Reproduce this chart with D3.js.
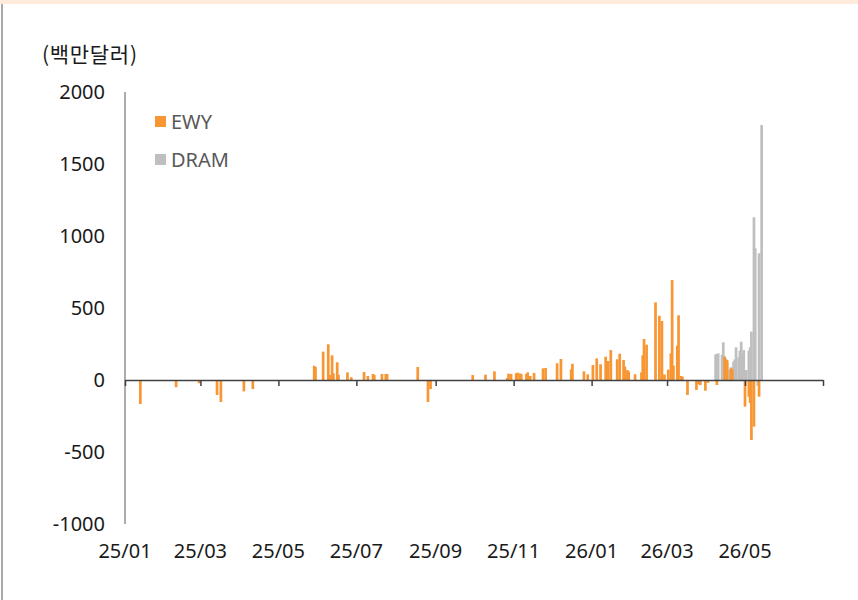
<!DOCTYPE html>
<html>
<head>
<meta charset="utf-8">
<script src="https://cdn.jsdelivr.net/npm/d3@7"></script>
<style>
  body { margin: 0; background: #fff; }
  svg { display: block; }
  text { font-family: "Noto Sans", "Noto Sans CJK KR", sans-serif; }
</style>
</head>
<body>
<svg id="chart" width="858" height="600"></svg>
<script>
// daily net flows, EWY vs DRAM (million USD)

const ewyDates = [
  "2025-01-13","2025-02-10","2025-02-28","2025-03-14","2025-03-17","2025-04-04","2025-04-11",
  "2025-05-29","2025-05-30","2025-06-05","2025-06-09","2025-06-10","2025-06-12","2025-06-13","2025-06-16","2025-06-17","2025-06-24","2025-06-27",
  "2025-07-07","2025-07-10","2025-07-14","2025-07-15","2025-07-21","2025-07-24","2025-07-25",
  "2025-08-18","2025-08-26","2025-08-28",
  "2025-09-30","2025-10-10","2025-10-17","2025-10-27","2025-10-28","2025-10-30",
  "2025-11-03","2025-11-04","2025-11-06","2025-11-07","2025-11-11","2025-11-12","2025-11-14","2025-11-17","2025-11-24","2025-11-26",
  "2025-12-05","2025-12-08","2025-12-16","2025-12-17","2025-12-26","2025-12-29",
  "2026-01-02","2026-01-05","2026-01-08","2026-01-12","2026-01-14","2026-01-16","2026-01-21","2026-01-23","2026-01-26","2026-01-27","2026-01-29","2026-01-30",
  "2026-02-04","2026-02-09","2026-02-10","2026-02-11","2026-02-13","2026-02-20","2026-02-23","2026-02-25","2026-02-27",
  "2026-03-02","2026-03-04","2026-03-05","2026-03-06","2026-03-09","2026-03-10","2026-03-12","2026-03-13",
  "2026-03-17","2026-03-24","2026-03-26","2026-03-27","2026-03-31","2026-04-02","2026-04-09",
  "2026-04-15","2026-04-17","2026-04-20","2026-04-21",
  "2026-05-01","2026-05-04","2026-05-05","2026-05-06","2026-05-08","2026-05-12"
];
const ewyValues = [
  -167,-50,-23,-104,-153,-79,-63,
  99,90,197,248,35,171,46,123,35,53,19,
  55,28,42,35,42,42,42,
  90,-153,-63,
  35,37,60,14,44,42,
  46,51,46,40,42,53,28,49,81,83,
  116,146,74,113,60,39,
  104,150,109,162,132,208,144,183,139,93,69,58,
  40,53,171,285,245,539,446,410,38,
  72,185,694,100,238,449,28,23,
  -104,-69,-30,-35,-74,-20,-35,
  162,139,81,75,
  -185,-116,-160,-417,-324,-116
];

const dramDates = [
  "2026-04-08","2026-04-09","2026-04-10","2026-04-13","2026-04-14","2026-04-15","2026-04-16","2026-04-17",
  "2026-04-19","2026-04-20","2026-04-22","2026-04-23","2026-04-24","2026-04-26","2026-04-27","2026-04-28",
  "2026-04-29","2026-04-30","2026-05-02","2026-05-04","2026-05-05","2026-05-06","2026-05-08","2026-05-09",
  "2026-05-11","2026-05-12","2026-05-14"
];
const dramValues = [
  178,180,185,175,262,165,150,120,
  69,88,127,143,227,157,204,266,
  180,208,69,204,227,336,1130,914,
  -40,880,1771
];

const yTicks = [2000, 1500, 1000, 500, 0, -500, -1000];
const xTickDates = ["2025-01-01","2025-03-01","2025-05-01","2025-07-01","2025-09-01","2025-11-01","2026-01-01","2026-03-01","2026-05-01","2026-07-01"];
const xTickLabels = ["25/01","25/03","25/05","25/07","25/09","25/11","26/01","26/03","26/05",""];
const seriesNames = ["EWY", "DRAM"];

const ewyColor = "#f79633";
const dramColor = "#bfbfbf";
const barW = 2.7;

const parse = d3.timeParse("%Y-%m-%d");
const ewy = ewyDates.map((d, i) => ({date: parse(d), value: ewyValues[i]}));
const dram = dramDates.map((d, i) => ({date: parse(d), value: dramValues[i]}));

const svg = d3.select("#chart");

// frame bits
svg.append("rect").attr("x", 0).attr("y", 0).attr("width", 858).attr("height", 4).attr("fill", "#fdeadb");
svg.append("line").attr("x1", 2).attr("x2", 2).attr("y1", 4).attr("y2", 600)
  .attr("stroke", "#8c8c8c").attr("stroke-width", 1.5);

// SCALES
const xScale = d3.scaleTime()
  .domain([parse("2025-01-01"), parse("2026-07-01")])
  .range([125, 823]);

const yScale = d3.scaleLinear()
  .domain([-1000, 2000])
  .range([524, 92]);

// COLUMNS
const drawBars = (data, cls, color) => {
  svg.selectAll("." + cls)
    .data(data)
    .join("rect")
    .attr("class", cls)
    .attr("x", d => xScale(d.date) - barW / 2)
    .attr("width", barW)
    .attr("y", d => yScale(Math.max(0, d.value)))
    .attr("height", d => Math.abs(yScale(d.value) - yScale(0)))
    .attr("fill", color);
};
drawBars(dram, "col-dram", dramColor);
drawBars(ewy, "col-ewy", ewyColor);

// AXES
svg.append("line")
  .attr("x1", 125).attr("x2", 125)
  .attr("y1", yScale(2000)).attr("y2", yScale(-1000))
  .attr("stroke", "#595959").attr("stroke-width", 1);

const xAxis = d3.axisBottom(xScale)
  .tickValues(xTickDates.map(parse))
  .tickSize(6)
  .tickSizeOuter(0)
  .tickFormat("");

const xg = svg.append("g")
  .attr("class", "x axis")
  .attr("transform", `translate(0,${yScale(0)})`)
  .call(xAxis);
xg.select(".domain").attr("stroke", "#404040").attr("stroke-width", 1.5);
xg.selectAll(".tick line").attr("stroke", "#404040").attr("stroke-width", 1.5);

svg.selectAll(".y-label")
  .data(yTicks)
  .join("text")
  .attr("class", "y-label")
  .attr("x", 105)
  .attr("y", d => yScale(d))
  .attr("dy", "0.35em")
  .attr("text-anchor", "end")
  .attr("font-size", 20)
  .attr("fill", "#1a1a1a")
  .text(d => d);

svg.selectAll(".x-label")
  .data(xTickDates.map((d, i) => ({date: parse(d), label: xTickLabels[i]})))
  .join("text")
  .attr("class", "x-label")
  .attr("x", d => xScale(d.date))
  .attr("y", 558)
  .attr("text-anchor", "middle")
  .attr("font-size", 20)
  .attr("fill", "#1a1a1a")
  .text(d => d.label);

// unit
svg.append("text")
  .attr("x", 42).attr("y", 62)
  .attr("font-size", 21)
  .attr("fill", "#1a1a1a")
  .style("font-family", "'Noto Sans CJK KR', sans-serif")
  .attr("textLength", 95)
  .text("(백만달러)");

// LEGEND
const legend = svg.append("g").attr("transform", "translate(155,116)");
seriesNames.forEach((name, i) => {
  const g = legend.append("g").attr("transform", `translate(0,${i * 38})`);
  g.append("rect").attr("width", 11).attr("height", 11).attr("fill", i === 0 ? ewyColor : dramColor);
  g.append("text").attr("x", 16).attr("y", 6).attr("dy", "0.35em")
    .attr("font-size", 20).attr("fill", "#595959").text(name);
});
</script>
</body>
</html>
